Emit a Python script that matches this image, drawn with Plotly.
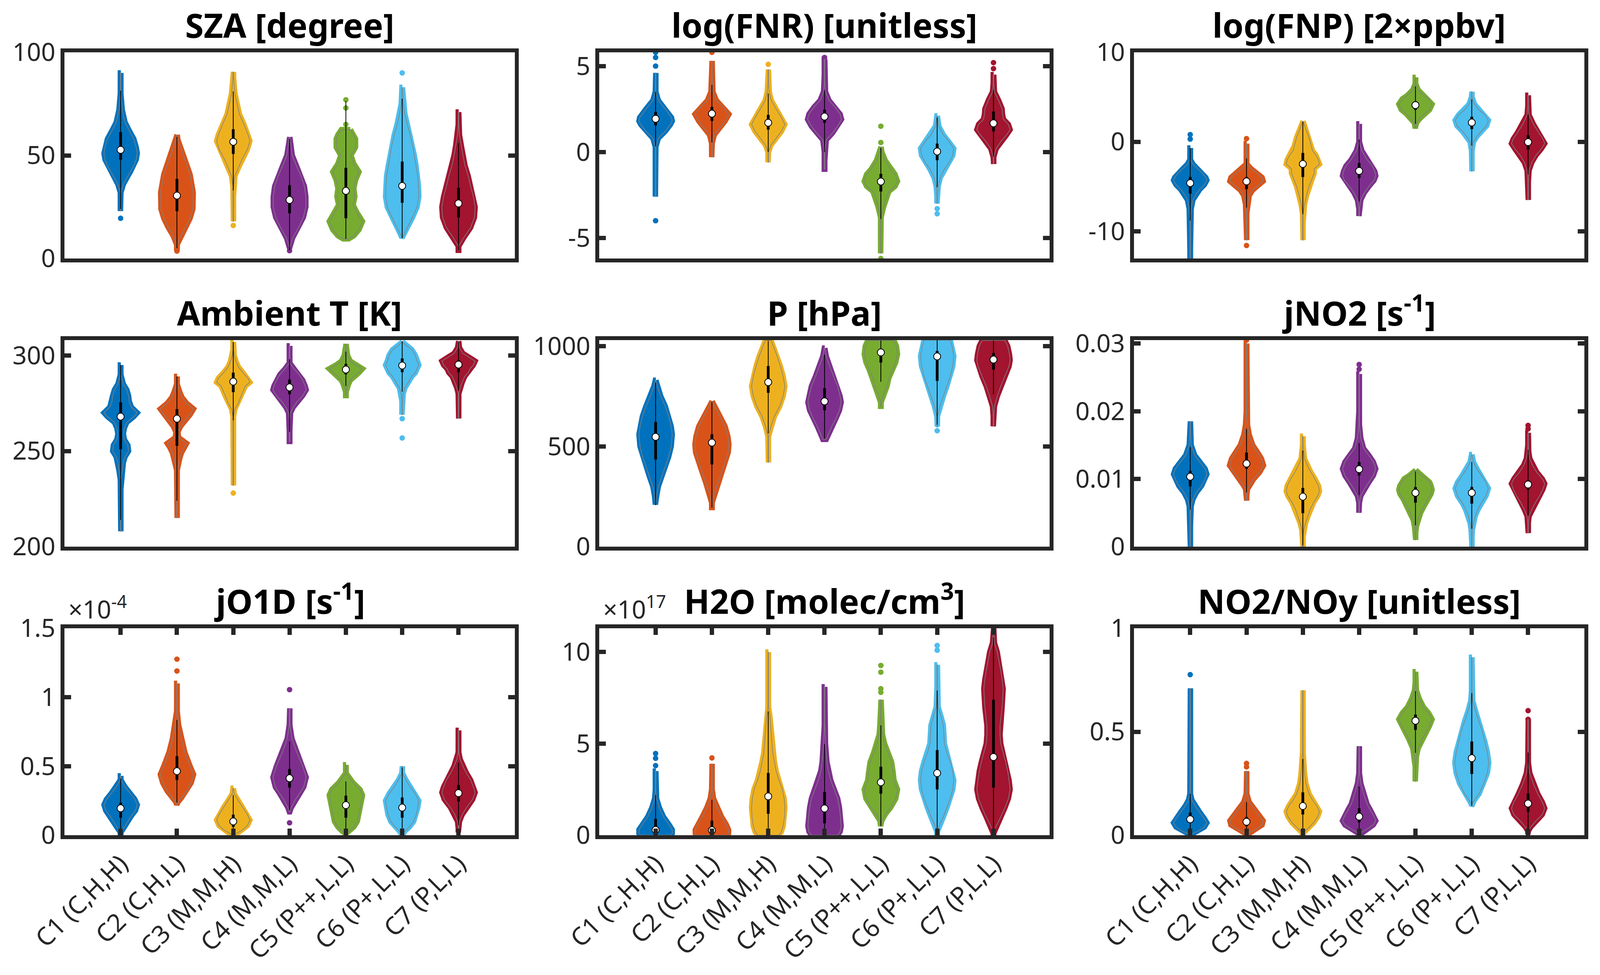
import plotly.graph_objects as go

CATEGORIES = ["C1 (C,H,H)", "C2 (C,H,L)", "C3 (M,M,H)", "C4 (M,M,L)",
              "C5 (P++,L,L)", "C6 (P+,L,L)", "C7 (P,L,L)"]
COLORS = ["#0072BD", "#D95319", "#EDB120", "#7E2F8E", "#77AC30", "#4DBEEE", "#A2142F"]

# violin outlines: (value, relative width, max ~55)
SZA_PROF = [
    [(90, 6), (80, 8), (72, 12), (66, 20), (62, 32), (58, 45), (54, 52), (51, 55), (48, 52), (45, 45), (42, 35), (40, 28), (36, 15), (32, 8), (28, 6), (23, 5)],
    [(60, 6), (57.6, 10), (49, 28), (40.7, 45), (32, 54), (24, 53), (19.5, 45), (15.3, 33), (11, 18), (6.8, 8), (5, 5)],
    [(90.5, 8), (88, 8), (80, 12), (70, 25), (65, 38), (60, 50), (57, 55), (53, 48), (48, 32), (44, 22), (40, 12), (35, 8), (30, 7), (25, 6), (18, 5)],
    [(58.9, 5), (50, 15), (45, 27), (40, 40), (35, 50), (30, 54), (25, 54), (20, 47), (15, 33), (10, 16), (5.5, 6)],
    [(62.5, 20), (60, 30), (58, 35), (54, 35), (50, 22), (46, 30), (42, 45), (38, 35), (34, 30), (30, 33), (26, 28), (22, 40), (18, 55), (14, 45), (11, 30), (9.5, 15)],
    [(83, 6), (75, 10), (70, 15), (65, 22), (60, 30), (55, 37), (50, 42), (45, 47), (40, 52), (35, 54), (30, 55), (25, 50), (20, 37), (15, 22), (11, 10), (10, 5)],
    [(71, 6), (65, 8), (60, 10), (55, 15), (50, 20), (45, 26), (40, 35), (35, 42), (30, 50), (25, 55), (20, 53), (15, 42), (10, 22), (6, 8), (4, 4)],
]
SZA_MED = [52.7, 30.5, 56.6, 28.4, 32.8, 35.2, 26.7]
SZA_BOX = [(47.9, 61.3), (22.9, 38.6), (50.7, 62.7), (21.9, 35.6), (19.5, 44), (27, 47), (19.9, 34.3)]
SZA_WHISK = [(24, 81.4), (5, 59), (33, 81), (4, 58), (9.5, 76.3), (10, 77.5), (4, 56)]
SZA_DOTS = [[19.5], [3.6], [16], [3.8], [77, 73, 65], [90], []]

FNR_PROF = [
    [(4.6, 4), (3.5, 8), (3.0, 15), (2.5, 35), (2.0, 53), (1.8, 55), (1.6, 50), (1.2, 35), (0.8, 15), (0.3, 8), (0, 6), (-1, 6), (-2, 6), (-2.6, 5)],
    [(5.3, 5), (4.5, 6), (3.5, 10), (3.0, 20), (2.6, 40), (2.2, 56), (1.8, 45), (1.4, 30), (1.0, 14), (0.5, 8), (0, 6), (-0.3, 4)],
    [(4.8, 4), (4, 6), (3.5, 10), (3, 16), (2.5, 30), (2, 45), (1.6, 55), (1.2, 45), (0.8, 30), (0.4, 15), (0, 8), (-0.6, 4)],
    [(5.4, 5), (4.5, 5), (4, 6), (3.5, 10), (3.0, 20), (2.6, 38), (2.2, 52), (1.9, 56), (1.5, 45), (1.1, 30), (0.7, 12), (0, 7), (-0.5, 6), (-1, 5)],
    [(0.3, 5), (0, 10), (-0.5, 20), (-1, 35), (-1.3, 48), (-1.7, 55), (-2, 48), (-2.3, 30), (-2.7, 22), (-3.2, 15), (-3.8, 8), (-4.5, 5), (-5.5, 5), (-5.9, 4)],
    [(2.1, 6), (1.5, 12), (1.0, 25), (0.6, 42), (0.2, 55), (-0.2, 52), (-0.6, 42), (-1, 28), (-1.5, 16), (-2, 10), (-2.6, 6), (-3, 5)],
    [(4.5, 4), (4, 6), (3.5, 10), (3, 22), (2.5, 32), (2.2, 33), (1.9, 36), (1.6, 50), (1.3, 55), (1, 45), (0.6, 28), (0.2, 15), (-0.3, 6), (-0.7, 4)],
]
FNR_MED = [1.93, 2.23, 1.7, 2.06, -1.72, 0.03, 1.67]
FNR_BOX = [(1.55, 2.33), (1.8, 2.62), (1.3, 2.16), (1.7, 2.46), (-2.3, -1.27), (-0.48, 0.49), (1.2, 2.36)]
FNR_WHISK = [(0.33, 3.5), (0.55, 3.9), (0, 3.4), (0, 3.6), (-3.9, 0.23), (-2.05, 2), (-0.27, 3.6)]
FNR_DOTS = [[5.8, 5.5, 5.0, -4.0], [5.8], [5.1], [5.5], [1.5, 0.55, -6.2], [-3.3, -3.6], [5.2, 4.85]]

FNP_PROF = [
    [(-0.7, 5), (-1.5, 6), (-2, 8), (-2.5, 15), (-3, 28), (-3.5, 42), (-4, 52), (-4.3, 55), (-4.8, 48), (-5.3, 35), (-5.8, 25), (-6.5, 15), (-7.5, 10), (-9, 8), (-10.5, 7), (-12, 6), (-13, 5)],
    [(-0.2, 5), (-1.5, 6), (-2.5, 8), (-3, 20), (-3.5, 38), (-4, 52), (-4.4, 55), (-4.9, 40), (-5.4, 25), (-6, 15), (-7, 10), (-8, 7), (-9.5, 6), (-11, 5)],
    [(2.3, 5), (1.5, 15), (0.5, 25), (-0.5, 32), (-1, 35), (-1.5, 45), (-2, 52), (-2.5, 55), (-3, 40), (-3.5, 40), (-4, 35), (-5, 25), (-6, 18), (-7, 12), (-8, 8), (-9, 6), (-10, 5), (-11, 4)],
    [(2, 4), (0, 7), (-1, 15), (-2, 30), (-2.7, 45), (-3.3, 52), (-3.8, 55), (-4.3, 50), (-5, 35), (-5.7, 22), (-6.5, 12), (-7.5, 7), (-8.3, 5)],
    [(7.2, 5), (6.5, 8), (5.8, 15), (5.2, 30), (4.8, 45), (4.2, 55), (3.6, 48), (3.1, 33), (2.6, 20), (2.1, 10), (1.5, 5)],
    [(5.6, 5), (5, 8), (4.2, 15), (3.5, 30), (3, 45), (2.4, 55), (1.8, 50), (1.2, 35), (0.6, 22), (0, 12), (-1, 6), (-2, 5), (-3, 5), (-3.3, 4)],
    [(5.2, 4), (4, 6), (3, 10), (2, 22), (1, 38), (0.3, 50), (-0.2, 55), (-0.8, 45), (-1.5, 30), (-2.3, 18), (-3.2, 10), (-4.5, 7), (-5.5, 6), (-6.5, 4)],
]
FNP_MED = [-4.62, -4.43, -2.48, -3.26, 4.1, 2.15, -0.04]
FNP_BOX = [(-5.8, -3.94), (-5.3, -3.94), (-3.94, -1.25), (-4.04, -2.38), (3.57, 4.55), (1.42, 2.8), (-0.88, 0.74)]
FNP_WHISK = [(-8.8, -0.7), (-7.36, -1.85), (-8.1, 2.2), (-6.67, 0.25), (2.0, 6.2), (-0.43, 4.74), (-3.65, 3.08)]
FNP_DOTS = [[0.8, 0.3], [0.35, -11.6], [], [], [], [], []]

T_PROF = [
    [(295, 4), (290, 6), (285, 15), (282, 25), (279, 30), (276, 32), (273, 38), (270, 55), (268, 45), (265, 25), (262, 18), (259, 15), (256, 18), (253, 28), (250, 30), (247, 20), (244, 15), (240, 12), (235, 8), (230, 6), (225, 6), (220, 5), (215, 4), (208, 3)],
    [(289, 4), (285, 8), (281, 15), (278, 22), (275, 35), (272, 55), (269, 45), (266, 30), (263, 18), (260, 10), (257, 12), (254, 35), (252, 28), (249, 20), (246, 15), (243, 12), (240, 8), (235, 5), (225, 5), (218, 4), (215, 3)],
    [(307, 4), (303, 6), (300, 10), (297, 15), (294, 22), (291, 35), (288, 50), (286, 55), (284, 42), (281, 35), (278, 28), (275, 22), (272, 12), (268, 7), (260, 5), (250, 5), (240, 5), (232, 4)],
    [(305, 4), (300, 6), (296, 8), (293, 20), (290, 35), (287, 45), (284, 52), (282, 55), (279, 45), (276, 30), (273, 18), (270, 10), (266, 6), (260, 5), (255, 4)],
    [(306, 5), (303, 8), (300, 12), (297, 20), (295, 35), (293, 55), (291, 45), (289, 30), (287, 20), (285, 15), (283, 10), (281, 6), (279, 4)],
    [(307, 5), (305, 20), (303, 35), (300, 45), (297, 50), (295, 55), (293, 50), (291, 45), (289, 35), (287, 28), (285, 22), (283, 15), (280, 10), (276, 6), (272, 4), (269, 3)],
    [(307.5, 5), (304, 10), (301, 20), (299, 38), (297, 55), (295, 50), (293, 40), (291, 35), (289, 25), (286, 18), (283, 12), (280, 8), (275, 6), (270, 5), (267, 4)],
]
T_MED = [268, 266.9, 286.3, 283.3, 292.6, 294.7, 295.2]
T_BOX = [(250.9, 275.5), (252.7, 271.9), (280.8, 291), (279.7, 287.4), (290.1, 295.6), (291.2, 298.4), (291.2, 297.6)]
T_WHISK = [(214, 295), (224, 289), (266, 307), (260, 298), (284, 302), (281, 307.5), (281.5, 307)]
T_DOTS = [[], [], [228], [], [], [266.9, 256.8], []]

P_PROF = [
    [(830, 5), (800, 12), (750, 22), (700, 35), (650, 45), (600, 52), (560, 55), (500, 52), (450, 45), (400, 35), (350, 25), (300, 15), (250, 10), (210, 5)],
    [(725, 6), (700, 15), (650, 30), (600, 45), (550, 53), (510, 56), (470, 54), (420, 45), (370, 35), (320, 25), (270, 15), (220, 8), (195, 4)],
    [(1030, 15), (1000, 22), (950, 33), (900, 42), (850, 50), (800, 55), (750, 50), (700, 40), (650, 25), (600, 15), (550, 8), (500, 5), (450, 4), (420, 3)],
    [(990, 5), (950, 12), (900, 22), (850, 33), (800, 45), (750, 52), (720, 55), (680, 50), (640, 40), (600, 28), (560, 18), (540, 14), (535, 12)],
    [(1028, 45), (1000, 52), (960, 55), (920, 50), (880, 40), (840, 30), (800, 25), (760, 15), (720, 8), (700, 5)],
    [(1030, 45), (1000, 50), (950, 55), (900, 52), (850, 45), (800, 35), (750, 25), (700, 15), (650, 8), (620, 4), (600, 3)],
    [(1028, 40), (1000, 48), (960, 53), (930, 55), (900, 52), (850, 40), (800, 28), (750, 18), (700, 10), (650, 6), (620, 4), (600, 3)],
]
P_MED = [547.5, 518.7, 820, 724.5, 968.6, 948.6, 933]
P_BOX = [(434, 621.6), (409.8, 560.6), (767, 900.6), (680, 790), (918, 987.8), (826.5, 976), (883, 966)]
P_WHISK = [(207, 818), (194, 722), (565, 1027), (539, 957), (822, 1028), (608, 1030), (761, 1028)]
P_DOTS = [[], [], [], [], [], [608, 578], []]

# jNO2 in units of 1e-3 s^-1
JNO2_PROF = [
    [(18.5, 4), (17, 6), (15, 10), (13.5, 20), (12.5, 35), (11.5, 50), (10.7, 55), (10, 50), (9, 40), (8, 25), (7, 15), (6, 10), (5, 8), (3, 7), (1, 6), (0, 4)],
    [(30, 4), (28, 5), (25, 5), (22, 6), (20, 7), (18, 10), (16.5, 15), (15, 25), (14, 38), (13, 50), (12, 56), (11, 45), (10, 28), (9, 15), (8.5, 10), (7.5, 7), (6.8, 5)],
    [(16.3, 4), (15, 6), (13, 12), (12, 20), (11, 30), (10, 42), (9, 52), (8.2, 55), (7.5, 50), (6.5, 38), (5.5, 28), (4.5, 22), (3.5, 15), (2.5, 10), (1.5, 7), (0.5, 5), (0, 3)],
    [(25.5, 4), (24, 5), (22, 5), (20, 6), (18, 8), (16, 12), (14.5, 20), (13.5, 35), (12.5, 48), (11.5, 55), (10.5, 48), (9.5, 35), (8.5, 22), (7.5, 12), (6.5, 8), (5.5, 6), (5, 4)],
    [(11.3, 8), (10.5, 25), (10, 40), (9.5, 48), (9, 52), (8.4, 55), (7.8, 52), (7, 42), (6, 32), (5, 22), (4, 14), (3, 10), (2, 7), (1.2, 5), (1, 3)],
    [(13.6, 4), (12.5, 12), (11.5, 22), (10.5, 35), (9.5, 48), (8.6, 55), (7.5, 48), (6.5, 35), (5.5, 25), (4.5, 17), (3.5, 12), (2.5, 9), (1.5, 7), (0.5, 5), (0, 3)],
    [(16.8, 5), (16.5, 6), (15, 7), (14, 9), (13, 12), (12, 20), (11, 32), (10, 48), (9.3, 55), (8.5, 50), (7.5, 40), (6.5, 28), (5.5, 18), (4.5, 10), (3.5, 7), (2.5, 6), (2, 4)],
]
JNO2_MED = [10.33, 12.26, 7.38, 11.44, 7.95, 7.95, 9.18]
JNO2_BOX = [(8.9, 11.2), (11.5, 13.9), (4.95, 8.67), (10.5, 12.5), (6.5, 8.8), (6.36, 8.8), (8.4, 9.8)]
JNO2_WHISK = [(5.46, 14.7), (8, 17.4), (0.2, 14.2), (7.6, 15.3), (3.15, 11.1), (2.64, 12.5), (4.56, 14.3)]
JNO2_DOTS = [[], [30.5], [], [26.9, 26.2], [], [], [17.9, 17.4]]

# jO1D in units of 1e-4 s^-1
JO1D_PROF = [
    [(0.43, 5), (0.4, 8), (0.35, 20), (0.3, 35), (0.26, 48), (0.22, 55), (0.18, 50), (0.14, 38), (0.1, 28), (0.06, 18), (0.02, 8), (0, 4)],
    [(1.1, 5), (1.0, 6), (0.9, 8), (0.8, 12), (0.7, 20), (0.6, 30), (0.5, 45), (0.44, 55), (0.38, 48), (0.32, 35), (0.27, 20), (0.24, 10), (0.22, 5)],
    [(0.34, 5), (0.3, 10), (0.25, 22), (0.2, 35), (0.15, 48), (0.11, 55), (0.07, 48), (0.04, 35), (0.02, 22), (0, 8)],
    [(0.92, 5), (0.8, 8), (0.7, 14), (0.6, 28), (0.5, 45), (0.42, 55), (0.35, 48), (0.3, 35), (0.25, 22), (0.2, 12), (0.17, 6)],
    [(0.51, 4), (0.45, 6), (0.38, 28), (0.33, 48), (0.29, 55), (0.25, 52), (0.2, 48), (0.15, 45), (0.1, 40), (0.06, 30), (0.03, 18), (0.01, 8)],
    [(0.5, 4), (0.45, 8), (0.4, 18), (0.35, 30), (0.3, 45), (0.25, 55), (0.2, 52), (0.15, 48), (0.1, 40), (0.06, 28), (0.03, 15), (0, 5)],
    [(0.76, 5), (0.7, 6), (0.6, 8), (0.55, 12), (0.5, 20), (0.45, 30), (0.4, 42), (0.35, 50), (0.31, 55), (0.26, 48), (0.2, 30), (0.15, 18), (0.1, 10), (0.05, 6), (0.02, 4)],
]
JO1D_MED = [0.195, 0.464, 0.1, 0.413, 0.218, 0.2, 0.305]
JO1D_BOX = [(0.127, 0.236), (0.4, 0.573), (0.06, 0.149), (0.345, 0.48), (0.127, 0.287), (0.127, 0.273), (0.245, 0.364)]
JO1D_WHISK = [(0.01, 0.41), (0.236, 0.836), (0.01, 0.29), (0.18, 0.68), (0, 0.39), (0, 0.49), (0.073, 0.527)]
JO1D_DOTS = [[], [1.276, 1.19], [], [1.055, 0.09], [], [], []]

# H2O in units of 1e17 molec/cm3
H2O_PROF = [
    [(3.5, 4), (3, 5), (2.5, 7), (2, 10), (1.5, 18), (1, 30), (0.6, 45), (0.3, 55), (0.1, 55), (0, 50)],
    [(3.9, 4), (3, 6), (2.5, 8), (2, 12), (1.5, 22), (1, 35), (0.6, 48), (0.3, 55), (0.1, 55), (0, 50)],
    [(10, 5), (9, 5), (8, 6), (7, 8), (6.5, 12), (6, 14), (5, 18), (4.5, 20), (4, 25), (3.5, 30), (3, 38), (2.5, 48), (2, 53), (1.5, 55), (1, 54), (0.5, 50), (0.2, 45), (0, 38)],
    [(8.1, 4), (7, 5), (6, 7), (5, 10), (4, 14), (3.5, 18), (3, 25), (2.5, 35), (2, 45), (1.5, 50), (1, 53), (0.5, 55), (0.2, 52), (0, 45)],
    [(7.4, 6), (6.5, 8), (6, 10), (5.5, 12), (5, 18), (4.5, 28), (4, 38), (3.5, 42), (3, 45), (2.5, 55), (2, 50), (1.5, 35), (1.2, 22), (0.8, 10), (0.5, 6)],
    [(9.3, 4), (8, 5), (7, 10), (6.5, 18), (6, 25), (5, 28), (4.5, 35), (4, 45), (3.5, 52), (3, 55), (2.5, 52), (2, 45), (1.5, 35), (1, 25), (0.6, 15), (0.2, 8), (0, 5)],
    [(11.3, 5), (10.5, 10), (10, 18), (9, 28), (8.5, 32), (8, 35), (7, 32), (6, 26), (5.5, 26), (5, 28), (4.5, 35), (4, 42), (3.5, 48), (3, 52), (2.5, 55), (2, 50), (1.5, 40), (1, 28), (0.5, 15), (0.1, 7), (0, 4)],
]
H2O_MED = [0.29, 0.27, 2.12, 1.46, 2.89, 3.39, 4.27]
H2O_BOX = [(0.12, 0.89), (0.12, 0.8), (1.17, 3.4), (0.65, 2.36), (2.27, 3.74), (2.5, 4.65), (2.6, 7.4)]
H2O_WHISK = [(0, 2.2), (0, 1.93), (0, 6.76), (0, 4.98), (0.5, 6), (0, 7.9), (0, 10.8)]
H2O_DOTS = [[4.46, 4.2, 3.8], [4.22], [], [], [9.27, 8.9, 8.0, 7.8], [10.36, 10.1], []]

RATIO_PROF = [
    [(0.71, 4), (0.6, 4), (0.5, 5), (0.4, 5), (0.3, 5), (0.25, 6), (0.2, 8), (0.17, 12), (0.14, 22), (0.11, 35), (0.08, 48), (0.06, 55), (0.04, 48), (0.02, 30), (0.005, 10), (0, 5)],
    [(0.31, 4), (0.25, 5), (0.2, 8), (0.16, 15), (0.13, 28), (0.1, 42), (0.07, 55), (0.05, 52), (0.03, 35), (0.01, 12), (0, 5)],
    [(0.7, 4), (0.6, 5), (0.5, 6), (0.4, 8), (0.3, 12), (0.25, 16), (0.2, 25), (0.17, 35), (0.14, 48), (0.115, 55), (0.09, 50), (0.06, 38), (0.03, 20), (0.01, 8), (0, 4)],
    [(0.43, 4), (0.35, 5), (0.3, 8), (0.25, 12), (0.2, 20), (0.15, 30), (0.12, 40), (0.09, 50), (0.07, 55), (0.05, 48), (0.03, 30), (0.01, 10), (0, 5)],
    [(0.79, 4), (0.74, 6), (0.7, 10), (0.66, 18), (0.62, 30), (0.59, 45), (0.56, 55), (0.53, 48), (0.5, 38), (0.46, 25), (0.42, 15), (0.38, 10), (0.33, 7), (0.28, 6), (0.26, 4)],
    [(0.86, 4), (0.75, 5), (0.7, 6), (0.65, 10), (0.6, 18), (0.55, 28), (0.5, 38), (0.45, 45), (0.4, 52), (0.35, 56), (0.3, 52), (0.25, 42), (0.2, 28), (0.17, 15), (0.15, 8), (0.14, 4)],
    [(0.56, 4), (0.45, 5), (0.4, 6), (0.35, 8), (0.3, 12), (0.25, 22), (0.2, 35), (0.16, 48), (0.13, 55), (0.1, 48), (0.07, 30), (0.04, 15), (0.02, 8), (0.005, 4)],
]
RATIO_MED = [0.077, 0.065, 0.141, 0.09, 0.553, 0.372, 0.153]
RATIO_BOX = [(0.062, 0.11), (0.043, 0.088), (0.1, 0.207), (0.062, 0.13), (0.509, 0.583), (0.296, 0.453), (0.113, 0.202)]
RATIO_WHISK = [(0, 0.2), (0, 0.16), (0, 0.368), (0, 0.236), (0.398, 0.696), (0.143, 0.687), (0, 0.4)]
RATIO_DOTS = [[0.776], [0.347, 0.33], [], [], [], [], [0.602, 0.56]]

panels = [
    ("SZA [degree]", SZA_PROF, SZA_MED, SZA_BOX, SZA_WHISK, SZA_DOTS, 1, [0, 100], [0, 50, 100], None),
    ("log(FNR) [unitless]", FNR_PROF, FNR_MED, FNR_BOX, FNR_WHISK, FNR_DOTS, 1, [-6.2, 5.8], [-5, 0, 5], None),
    ("log(FNP) [2×ppbv]", FNP_PROF, FNP_MED, FNP_BOX, FNP_WHISK, FNP_DOTS, 1, [-13.05, 10], [-10, 0, 10], None),
    ("Ambient T [K]", T_PROF, T_MED, T_BOX, T_WHISK, T_DOTS, 1, [200, 308], [200, 250, 300], None),
    ("P [hPa]", P_PROF, P_MED, P_BOX, P_WHISK, P_DOTS, 1, [0, 1030], [0, 500, 1000], None),
    ("jNO2 [s<sup>-1</sup>]", JNO2_PROF, JNO2_MED, JNO2_BOX, JNO2_WHISK, JNO2_DOTS, 1e-3, [0, 0.0305], [0, 0.01, 0.02, 0.03], None),
    ("jO1D [s<sup>-1</sup>]", JO1D_PROF, JO1D_MED, JO1D_BOX, JO1D_WHISK, JO1D_DOTS, 1, [0, 1.5], [0, 0.5, 1, 1.5], "×10<sup>-4</sup>"),
    ("H2O [molec/cm<sup>3</sup>]", H2O_PROF, H2O_MED, H2O_BOX, H2O_WHISK, H2O_DOTS, 1, [0, 11.3], [0, 5, 10], "×10<sup>17</sup>"),
    ("NO2/NOy [unitless]", RATIO_PROF, RATIO_MED, RATIO_BOX, RATIO_WHISK, RATIO_DOTS, 1, [0, 1], [0, 0.5, 1], None),
]

W, H = 4205, 2497
col_px = [(169, 1353), (1575, 2759), (2980, 4164)]
row_px = [(134, 662), (871, 1400), (1609, 2139)]
AX = "#262626"
FONT = "Noto Sans"

fig = go.Figure()
layout = dict(template="none", width=W, height=H, autosize=False,
              margin=dict(l=0, r=0, t=0, b=0, pad=0, autoexpand=False),
              paper_bgcolor="white", plot_bgcolor="white", showlegend=False)
annotations = []

for i, (title, prof, med, box, whisk, dots, sc, yr, tv, expo) in enumerate(panels):
    r, c = divmod(i, 3)
    s = "" if i == 0 else str(i + 1)
    xa, ya = "x" + s, "y" + s
    xd = [col_px[c][0] / W, col_px[c][1] / W]
    yd = [1 - row_px[r][1] / H, 1 - row_px[r][0] / H]

    ox, oy = [], []
    for j in range(7):
        xc = j + 1
        ys = [p[0] * sc for p in prof[j]]
        hw = [max(p[1] / 55 * 0.34 - 0.045, 0.004) for p in prof[j]]
        px = [xc + h for h in hw] + [xc - h for h in hw[::-1]] + [xc + hw[0]]
        py = ys + ys[::-1] + [ys[0]]
        fig.add_trace(go.Scatter(x=px, y=py, mode="lines", fill="toself",
                                 fillcolor=COLORS[j], line=dict(color=COLORS[j], width=14),
                                 xaxis=xa, yaxis=ya, hoverinfo="skip"))
        if dots[j]:
            fig.add_trace(go.Scatter(x=[xc] * len(dots[j]), y=[d * sc for d in dots[j]], mode="markers",
                                     marker=dict(color=COLORS[j], size=14), xaxis=xa, yaxis=ya,
                                     cliponaxis=False))
        ox += px + [None]
        oy += py + [None]
    fig.add_trace(go.Scatter(x=ox, y=oy, mode="lines", line=dict(color="#808080", width=1.6),
                             xaxis=xa, yaxis=ya))

    wx, wy, bx, by = [], [], [], []
    for j in range(7):
        wx += [j + 1, j + 1, None]
        wy += [whisk[j][0] * sc, whisk[j][1] * sc, None]
        bx += [j + 1, j + 1, None]
        by += [box[j][0] * sc, box[j][1] * sc, None]
    fig.add_trace(go.Scatter(x=wx, y=wy, mode="lines", line=dict(color="black", width=2),
                             xaxis=xa, yaxis=ya))
    fig.add_trace(go.Scatter(x=bx, y=by, mode="lines", line=dict(color="black", width=7),
                             xaxis=xa, yaxis=ya))
    fig.add_trace(go.Scatter(x=list(range(1, 8)), y=[m * sc for m in med], mode="markers",
                             marker=dict(color="white", size=18, line=dict(color="black", width=2)),
                             xaxis=xa, yaxis=ya))

    bottom = r == 2
    xaxis = dict(domain=xd, range=[0, 8], anchor=ya, showgrid=False, zeroline=False,
                 showline=True, linecolor=AX, linewidth=10, automargin=False)
    if bottom:
        xaxis.update(mirror="ticks", tickmode="array", tickvals=list(range(1, 8)), ticktext=CATEGORIES,
                     ticks="inside", ticklen=17, tickwidth=11, tickcolor=AX, tickangle=-45,
                     tickfont=dict(family=FONT, size=64, color=AX))
    else:
        xaxis.update(mirror=True, ticks="", showticklabels=False)
    layout["xaxis" + s] = xaxis
    layout["yaxis" + s] = dict(domain=yd, range=yr, anchor=xa, showgrid=False, zeroline=False,
                               showline=True, linecolor=AX, linewidth=10, mirror="ticks",
                               automargin=False, tickmode="array", tickvals=tv,
                               ticktext=[f"{v:g}" for v in tv], ticks="inside", ticklen=17,
                               tickwidth=11, tickcolor=AX,
                               tickfont=dict(family=FONT, size=64, color=AX))

    annotations.append(dict(text="<b>" + title + "</b>", x=(xd[0] + xd[1]) / 2, y=yd[1],
                            xref="paper", yref="paper", xanchor="center", yanchor="bottom",
                            yshift=10, showarrow=False,
                            font=dict(family=FONT, size=86, color="black")))
    if expo:
        annotations.append(dict(text=expo, x=xd[0], y=yd[1], xref="paper", yref="paper",
                                xanchor="left", yanchor="bottom", xshift=8, yshift=4,
                                showarrow=False, font=dict(family=FONT, size=64, color=AX)))

layout["annotations"] = annotations
fig.update_layout(**layout)

# fit the figure to the browser window (no page margin, no scrollbars)
fit_js = """
document.documentElement.style.margin = '0';
document.documentElement.style.overflow = 'hidden';
document.body.style.margin = '0';
document.body.style.overflow = 'hidden';
var gd = document.getElementById('{plot_id}');
Plotly.relayout(gd, {width: window.innerWidth, height: window.innerHeight});
"""
fig.write_html("out.html", post_script=fit_js, config={"displayModeBar": False})
